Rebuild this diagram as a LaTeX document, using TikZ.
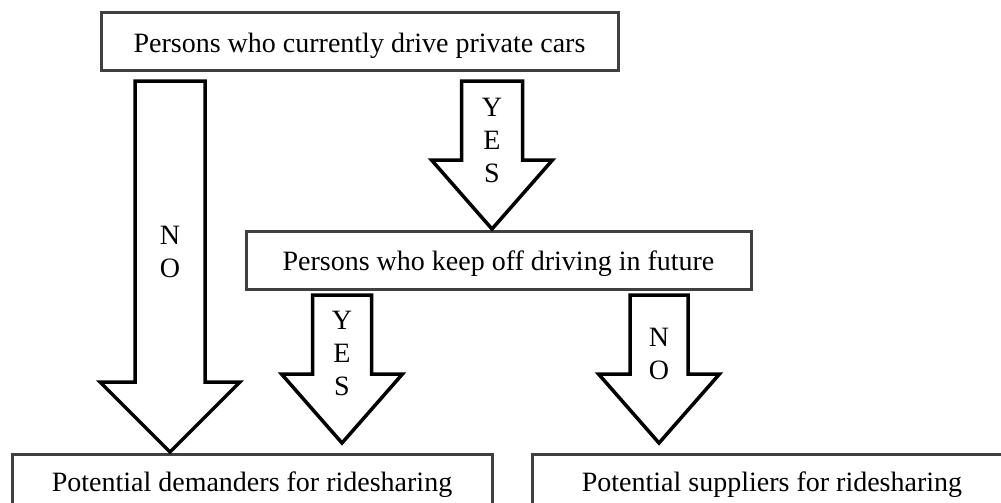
\documentclass[tikz,border=0pt]{standalone}
\usepackage{fontspec}
\setmainfont{Liberation Serif}
\definecolor{boxline}{RGB}{64,64,64}
\tikzset{
  flowbox/.style={draw=boxline, line width=3pt, fill=white, inner sep=0pt,
    font=\fontsize{28}{33}\selectfont, text height=21pt, text depth=0pt},
  barr/.style={draw=black, line width=3.5pt, fill=white, line join=miter},
  letters/.style={font=\fontsize{28}{33}\selectfont, align=center, inner sep=0pt}
}
\newcommand{\barrow}[6]{% cx, ytop, yhead, ytip, shaft half, head half
  \draw[barr] ({#1-#5},#2) -- ({#1+#5},#2) -- ({#1+#5},#3) -- ({#1+#6},#3)
    -- (#1,#4) -- ({#1-#6},#3) -- ({#1-#5},#3) -- cycle;}
\begin{document}
\begin{tikzpicture}[x=1pt,y=-1pt]
\useasboundingbox (0,0) rectangle (1001,503);
\clip (0,0) rectangle (1001,503);
\node[flowbox, minimum width=517pt, minimum height=58pt] (top) at (359.5,42)
  {Persons who currently drive private cars};
\node[flowbox, minimum width=505pt, minimum height=58pt] (mid) at (498.5,260)
  {Persons who keep off driving in future};
\node[flowbox, minimum width=480pt, minimum height=70pt, text height=20pt, text depth=16pt] (dem) at (252,489)
  {Potential demanders for ridesharing};
\node[flowbox, minimum width=480pt, minimum height=70pt, text height=20pt, text depth=16pt] (sup) at (772,489)
  {Potential suppliers for ridesharing};
% block arrows
\barrow{170}{81}{382}{452}{35}{70}
\barrow{492}{81}{160}{229}{30.5}{60.5}
\barrow{342}{295}{374}{443}{29.5}{60.5}
\barrow{659}{295}{374}{443}{29}{60.5}
% labels
\node[letters] (noA) at (170,251.5) {N\\O};
\node[letters] (yesA) at (492,140.5) {Y\\E\\S};
\node[letters] (yesB) at (342,353.5) {Y\\E\\S};
\node[letters] (noB) at (659,353.5) {N\\O};
\end{tikzpicture}
\end{document}
